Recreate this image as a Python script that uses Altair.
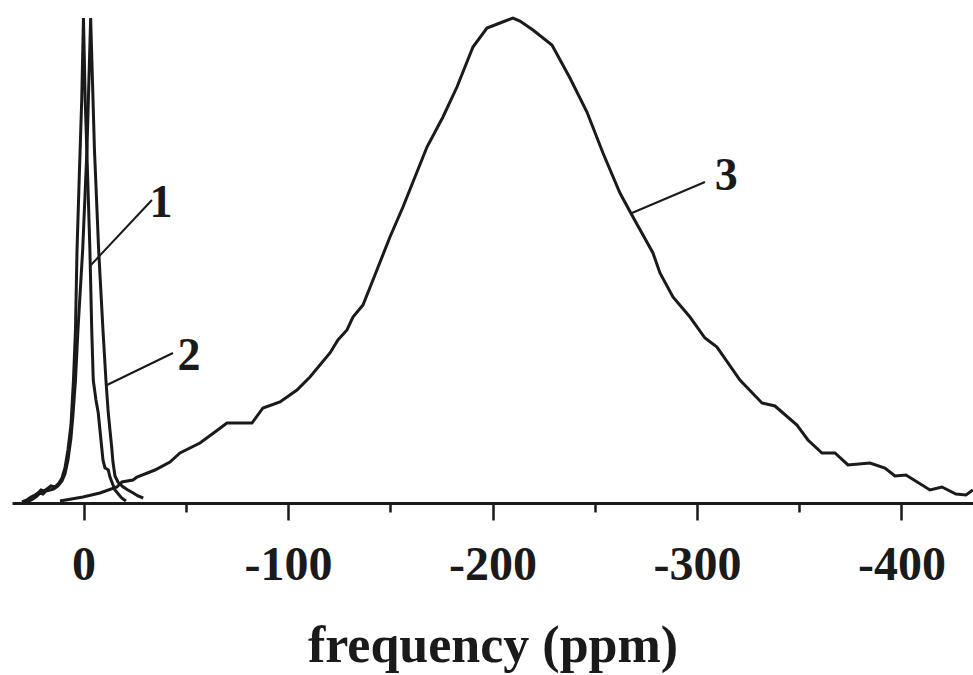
import altair as alt
import pandas as pd

# ---- data (ppm, intensity in % of max) ----
ppm1 = [30.12, 27.68, 25.72, 23.77, 22.30, 20.83, 19.36, 17.90, 15.94, 13.99, 12.03, 10.56, 9.10,
        7.63, 6.16, 4.94, 3.96, 3.20, 2.00, 0.90, 0.05, -0.80, -1.90, -3.10, -4.00, -4.74, -6.06,
        -7.19, -8.02, -8.85, -9.49, -10.46, -11.44, -12.08, -12.91, -15.36, -18.63, -20.73]
int1 = [0.21, 0.62, 1.24, 1.65, 2.06, 2.68, 2.47, 2.89, 3.51, 3.30, 4.12, 5.15, 7.22,
        10.93, 16.08, 25.36, 35.67, 52.17, 68.66, 83.10, 100.0, 83.10, 68.66, 52.17, 35.67, 25.36, 21.24,
        18.56, 15.05, 11.55, 8.87, 7.22, 7.01, 6.81, 5.36, 2.68, 1.03, 0.41]

ppm2 = [28.66, 26.70, 24.74, 22.79, 21.32, 19.85, 18.39, 16.43, 14.47, 12.52, 10.56, 9.10, 7.63,
        6.16, 5.18, 3.96, 2.74, 0.44, -1.66, -3.47, -5.33, -7.38, -9.49, -10.95, -12.08, -12.91,
        -13.74, -14.38, -15.36, -16.82, -19.41, -21.71, -24.30, -26.60, -29.19]
int2 = [0.21, 0.41, 0.82, 1.44, 2.06, 1.86, 2.47, 2.68, 2.89, 3.51, 4.54, 5.98, 8.87,
        13.40, 18.15, 25.26, 35.67, 52.17, 72.79, 100.0, 72.79, 52.17, 35.67, 25.26, 18.56, 15.05,
        11.55, 8.45, 5.57, 4.33, 3.30, 2.68, 2.06, 1.44, 1.03]

ppm3 = [11.54, 0.29, -8.02, -16.33, -18.78, -24.16, -26.12, -34.92, -42.25, -47.15, -56.93, -64.26,
        -70.13, -82.36, -87.74, -96.05, -104.37, -110.73, -120.51, -124.42, -128.82, -131.76, -136.65,
        -141.54, -149.85, -156.21, -167.95, -175.77, -182.62, -190.44, -197.29, -203.65, -210.01,
        -213.43, -219.79, -229.08, -237.88, -246.20, -254.03, -262.34, -268.70, -278.48, -281.90,
        -288.26, -296.57, -303.91, -309.78, -321.02, -331.78, -338.14, -348.90, -354.28, -361.13,
        -367.49, -373.84, -384.60, -391.94, -396.83, -402.21, -413.95, -419.82, -426.66, -431.55, -434.98]
int3 = [0.41, 1.24, 2.06, 3.30, 4.33, 4.74, 5.36, 6.80, 8.45, 10.31, 12.37, 14.64,
        16.49, 16.49, 19.59, 20.82, 23.30, 25.98, 30.93, 33.61, 35.67, 38.35, 40.82,
        45.98, 54.85, 61.03, 73.40, 79.59, 85.77, 94.02, 97.94, 98.97, 100.0,
        99.38, 97.53, 94.43, 87.63, 80.62, 72.16, 63.92, 58.97, 51.55, 47.42,
        42.47, 38.35, 34.02, 32.16, 25.36, 20.62, 20.00, 16.08, 12.99, 10.31,
        10.31, 7.84, 8.25, 7.22, 5.57, 5.77, 2.68, 3.30, 1.86, 1.65, 2.68]

# curve labels and leader lines (ppm / intensity)
label_text = ["1", "2", "3"]
label_ppm = [-37.85, -51.54, -314.3]
label_int = [58.97, 27.42, 64.54]
lead_ppm_a = [-33.45, -43.72, -303.9]
lead_int_a = [62.48, 30.93, 66.19]
lead_ppm_b = [-3.62, -11.44, -268.2]
lead_int_b = [49.08, 24.33, 59.80]

major_ticks = [0, -100, -200, -300, -400]
minor_ticks = [-50, -150, -250, -350]

frames = []
for name, xs, ys in (("1", ppm1, int1), ("2", ppm2, int2), ("3", ppm3, int3)):
    frames.append(pd.DataFrame({"series": name, "ppm": xs, "intensity": ys,
                                "idx": range(len(xs))}))
curves = pd.concat(frames, ignore_index=True)
labels = pd.DataFrame({"text": label_text, "ppm": label_ppm, "intensity": label_int})
leaders = pd.DataFrame({"ppm": lead_ppm_a, "intensity": lead_int_a,
                        "ppm2": lead_ppm_b, "intensity2": lead_int_b})

FONT = "Liberation Serif"
INK = "#1a1a1a"
xs = alt.Scale(domain=[35, -435], nice=False, zero=False)
ys = alt.Scale(domain=[0, 100], nice=False, zero=False)

major_axis = alt.Axis(
    values=major_ticks, orient="bottom",
    title="frequency (ppm)",
    grid=False,
    domainColor=INK, domainWidth=3,
    tickColor=INK, tickWidth=2.5, tickSize=17,
    labelExpr="'' + datum.value",
    labelFont=FONT, labelFontSize=48, labelFontWeight="bold", labelColor=INK,
    labelPadding=21, labelOverlap=False, labelFlush=False,
    titleFont=FONT, titleFontSize=52, titleFontWeight="bold", titleColor=INK,
    titleBaseline="alphabetic", titleY=158,
)

minor_axis = alt.Axis(
    values=minor_ticks, orient="bottom", title=None, grid=False,
    domain=False, labels=False,
    tickColor=INK, tickWidth=2.5, tickSize=9,
)

lines = alt.Chart(curves).mark_line(color=INK, strokeWidth=3).encode(
    x=alt.X("ppm:Q", scale=xs, axis=major_axis),
    y=alt.Y("intensity:Q", scale=ys, axis=None),
    detail="series:N",
    order="idx:Q",
)

lead = alt.Chart(leaders).mark_rule(color=INK, strokeWidth=2).encode(
    x=alt.X("ppm:Q", scale=xs, axis=minor_axis),
    y=alt.Y("intensity:Q", scale=ys, axis=None),
    x2="ppm2:Q", y2="intensity2:Q",
)

txt = alt.Chart(labels).mark_text(font=FONT, fontSize=46, fontWeight="bold",
                                  color=INK, align="center",
                                  baseline="alphabetic").encode(
    x=alt.X("ppm:Q", scale=xs, axis=None),
    y=alt.Y("intensity:Q", scale=ys, axis=None),
    text="text:N",
)

chart = alt.layer(lines, lead, txt).resolve_axis(x="independent").properties(
    width=961, height=485,
    background="white",
    autosize=alt.AutoSizeParams(type="none"),
    padding={"left": 12, "top": 18, "right": 0, "bottom": 172},
).configure_view(stroke=None)

chart.save("out.html", embed_options={"renderer": "svg", "actions": False})
